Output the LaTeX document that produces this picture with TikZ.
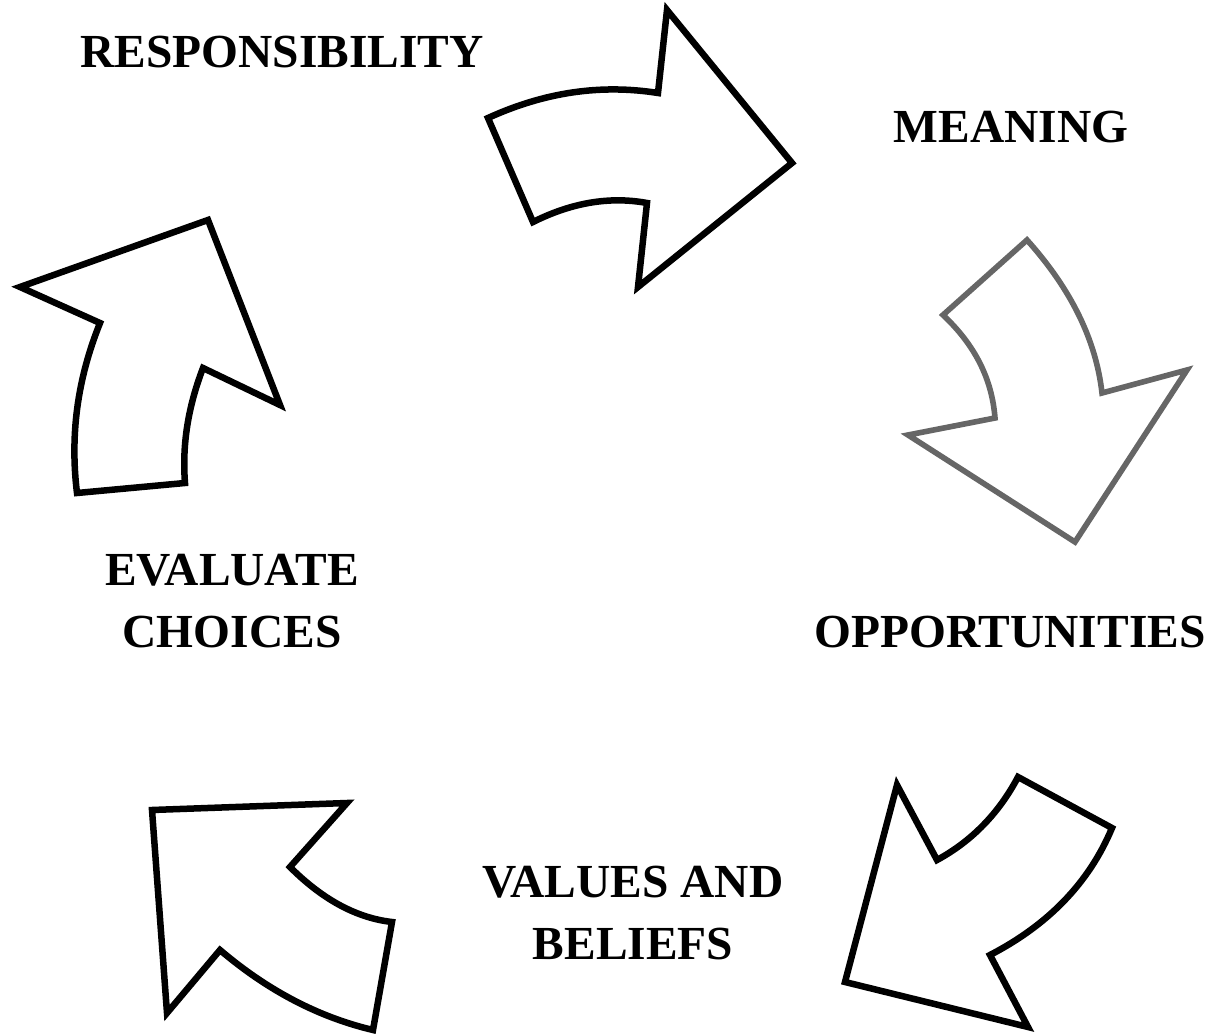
\documentclass[tikz,border=0pt]{standalone}
\usepackage{fontspec}
\setmainfont{Liberation Serif}
\usepackage{tikz}

\begin{document}
\begin{tikzpicture}[x=0.02cm, y=-0.02cm,
		turn/.style={line width=3.7pt, line join=miter, draw=black},
		word/.style={font=\fontsize{27}{35.5}\selectfont\bfseries, align=center, inner sep=0pt}]
			%%%%% START %%%%%
			
			\useasboundingbox (0, 0) rectangle (1215, 1034);
			
			\node[word] (resp) at (282, 52) {RESPONSIBILITY};
			\node[word] (mean) at (1011, 127) {MEANING};
			\node[word] (opp) at (1010, 632) {OPPORTUNITIES};
			\node[word] (vals) at (633, 913) {VALUES AND\\BELIEFS};
			\node[word] (eval) at (232, 601) {EVALUATE\\CHOICES};
			
			\draw[turn] (488, 118) .. controls (545, 92) and (601, 84) .. (658, 93) -- (667, 10) -- (792, 163)
				-- (638, 287) -- (647, 203) .. controls (609, 196) and (571, 203) .. (533, 222) -- cycle;
			
			\draw[turn, line width=3.2pt, draw=black!60] (1027, 240) -- (943, 315) .. controls (975, 345) and (992, 379) .. (995, 418)
				-- (908, 435) -- (1075, 542) -- (1187, 370) -- (1102, 393) .. controls (1096, 340) and (1071, 289) .. cycle;
			
			\draw[turn] (897, 785) -- (937, 860) .. controls (972, 841) and (999, 813) .. (1018, 777) -- (1112, 828)
				.. controls (1089, 883) and (1048, 925) .. (990, 955) -- (1028, 1027) -- (845, 982) -- cycle;
			
			\draw[turn] (152, 810) -- (347, 803) -- (290, 867) .. controls (323, 900) and (357, 918) .. (392, 922)
				-- (373, 1030) .. controls (318, 1017) and (267, 990) .. (220, 950) -- (167, 1013) -- cycle;
			
			\draw[turn] (208, 220) -- (280, 405) -- (203, 368) .. controls (188, 407) and (182, 445) .. (185, 483)
				-- (77, 493) .. controls (70, 436) and (77, 380) .. (100, 323) -- (20, 287) -- cycle;
			
			%%%%% END %%%%%
\end{tikzpicture}
\end{document}
